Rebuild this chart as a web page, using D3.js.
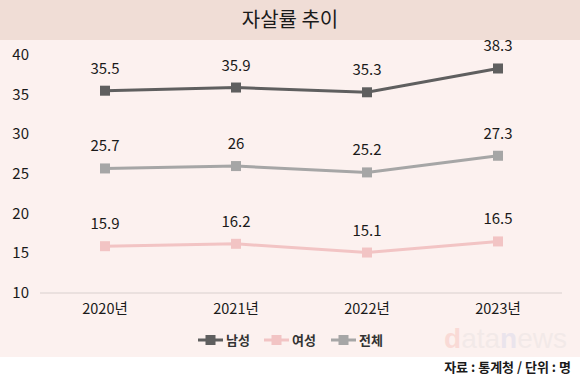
<!DOCTYPE html>
<html>
<head>
<meta charset="utf-8">
<script src="https://cdn.jsdelivr.net/npm/d3@7"></script>
<style>
  body { margin: 0; background: #fff; }
  text { font-family: "Noto Sans CJK KR", "Noto Sans", sans-serif; }
</style>
</head>
<body>
<svg width="580" height="385"></svg>
<script>
// data
var years = ["2020년", "2021년", "2022년", "2023년"];
var male = [35.5, 35.9, 35.3, 38.3];
var female = [15.9, 16.2, 15.1, 16.5];
var total = [25.7, 26, 25.2, 27.3];
var seriesNames = ["남성", "여성", "전체"];
var yTicks = [10, 15, 20, 25, 30, 35, 40];

var series = [
  { name: seriesNames[0], values: male, color: "#5f5f5f" },
  { name: seriesNames[1], values: female, color: "#f2c4c4" },
  { name: seriesNames[2], values: total, color: "#a6a6a6" }
];

var svg = d3.select("svg");

// backgrounds
svg.append("rect").attr("x", 0).attr("y", 40).attr("width", 580).attr("height", 317).attr("fill", "#fcf1ef");
svg.append("rect").attr("x", 0).attr("y", 0).attr("width", 580).attr("height", 40).attr("fill", "#f0ddd6");

svg.append("text")
  .attr("x", 290).attr("y", 27)
  .attr("text-anchor", "middle")
  .style("font-size", "20px")
  .attr("fill", "#1a1a1a")
  .text("자살률 추이");

// scales
var x = d3.scalePoint().domain(years).range([105, 498]);
var y = d3.scaleLinear().domain([10, 40]).range([293, 55]);

// baseline
svg.append("line")
  .attr("x1", 40).attr("x2", 562)
  .attr("y1", y(10)).attr("y2", y(10))
  .attr("stroke", "#d9d0ce").attr("stroke-width", 1);

// y tick labels
svg.selectAll(".ytick")
  .data(yTicks)
  .enter().append("text")
  .attr("x", 29)
  .attr("y", function(d){ return y(d) + 5 })
  .attr("text-anchor", "end")
  .style("font-size", "15px")
  .attr("fill", "#1a1a1a")
  .text(function(d){ return d });

// x tick labels
svg.selectAll(".xtick")
  .data(years)
  .enter().append("text")
  .attr("x", function(d){ return x(d) })
  .attr("y", 314)
  .attr("text-anchor", "middle")
  .style("font-size", "14.5px")
  .attr("fill", "#1a1a1a")
  .text(function(d){ return d });

// watermark
var wm = svg.append("text")
  .attr("x", 567).attr("y", 348)
  .attr("text-anchor", "end")
  .style("font-size", "28px")
  .style("font-family", "'Liberation Sans', sans-serif")
  .attr("opacity", 0.3);
wm.append("tspan").attr("fill", "#f5a89e").style("font-weight", "bold").text("d");
wm.append("tspan").attr("fill", "#dcdada").text("ata");
wm.append("tspan").attr("fill", "#c2c8e8").style("font-weight", "bold").text("n");
wm.append("tspan").attr("fill", "#dcdada").text("ews");

var line = d3.line()
  .x(function(d, i){ return x(years[i]) })
  .y(function(d){ return y(d) });

series.forEach(function(s) {
  var g = svg.append("g");
  g.append("path")
    .datum(s.values)
    .attr("d", line)
    .attr("fill", "none")
    .attr("stroke", s.color)
    .attr("stroke-width", 3);
  g.selectAll("rect")
    .data(s.values)
    .enter().append("rect")
    .attr("x", function(d, i){ return x(years[i]) - 5 })
    .attr("y", function(d){ return y(d) - 5 })
    .attr("width", 10).attr("height", 10)
    .attr("fill", s.color);
  g.selectAll("text")
    .data(s.values)
    .enter().append("text")
    .attr("x", function(d, i){ return x(years[i]) })
    .attr("y", function(d){ return y(d) - 17 })
    .attr("text-anchor", "middle")
    .style("font-size", "15px")
    .attr("fill", "#1a1a1a")
    .text(function(d){ return d });
});

// legend
var legendX = [198, 264, 331];
series.forEach(function(s, i) {
  var lg = svg.append("g").attr("transform", "translate(" + legendX[i] + ",340)");
  lg.append("line").attr("x1", 0).attr("x2", 25).attr("y1", 0).attr("y2", 0)
    .attr("stroke", s.color).attr("stroke-width", 3);
  lg.append("rect").attr("x", 7.5).attr("y", -5).attr("width", 10).attr("height", 10).attr("fill", s.color);
  lg.append("text").attr("x", 28).attr("y", 5)
    .style("font-size", "13px").style("font-weight", "bold")
    .attr("fill", "#333")
    .text(s.name);
});

// source
svg.append("text")
  .attr("x", 571).attr("y", 372)
  .attr("text-anchor", "end")
  .style("font-size", "13px").style("font-weight", "bold")
  .attr("fill", "#1a1a1a")
  .text("자료 : 통계청 / 단위 : 명");
</script>
</body>
</html>
